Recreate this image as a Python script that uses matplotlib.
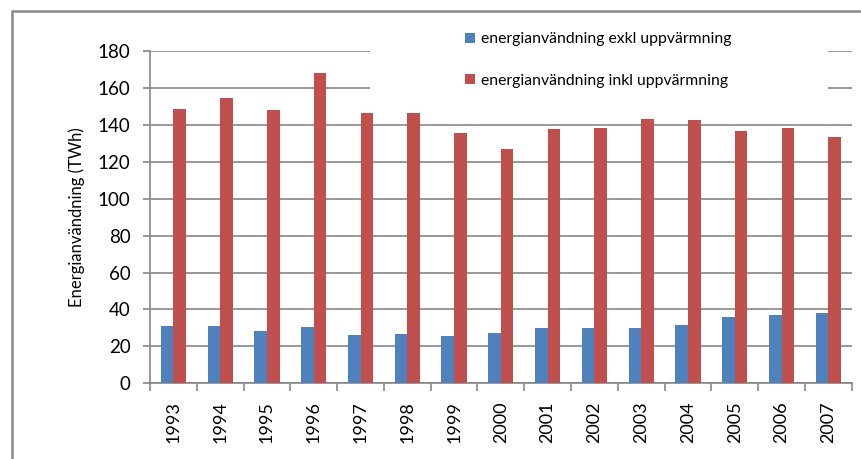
import numpy as np
import matplotlib.pyplot as plt
from matplotlib.patches import Rectangle

years = ['1993', '1994', '1995', '1996', '1997', '1998', '1999', '2000',
         '2001', '2002', '2003', '2004', '2005', '2006', '2007']
exkl = [30.9, 30.9, 28.3, 30.3, 26.2, 26.7, 25.6, 27.2, 29.8, 29.8, 29.8, 31.4, 35.7, 37.2, 38.2]
inkl = [148.6, 154.7, 148.0, 168.0, 146.3, 146.3, 135.4, 126.9, 137.6, 138.5, 143.2, 142.6, 136.5, 138.5, 133.4]
labels = ['energianvändning exkl uppvärmning', 'energianvändning inkl uppvärmning']

plt.rcParams['font.family'] = ['Lato', 'DejaVu Sans']
grey = '#868686'

fig = plt.figure(figsize=(8.62, 4.59), dpi=100)
W, H = 862, 459
ax = fig.add_axes([150 / W, 1 - 383.3 / H, 701.7 / W, 332.3 / H])

x = np.arange(len(years))
w = 0.27
ax.bar(x - w / 2, exkl, w, color='#4F81BD', label=labels[0], zorder=3)
ax.bar(x + w / 2, inkl, w, color='#C0504D', label=labels[1], zorder=3)

ax.set_xlim(-0.5, len(years) - 0.5)
ax.set_ylim(0, 180)
ax.set_yticks(range(0, 181, 20))
ax.yaxis.grid(True, color=grey, linewidth=1.2, zorder=0)
ax.set_axisbelow(True)

ax.set_xticks(x)
ax.set_xticklabels(years, rotation=90, fontsize=13)
ax.tick_params(axis='x', length=0, pad=13)
ax.set_xticks(np.arange(-0.5, len(years)), minor=True)
ax.tick_params(axis='x', which='minor', length=6, color=grey, width=1.2)
ax.tick_params(axis='y', labelsize=13.5, length=5, color=grey, width=1.2, pad=9)

for s in ['top', 'right']:
    ax.spines[s].set_visible(False)
for s in ['left', 'bottom']:
    ax.spines[s].set_color(grey)
    ax.spines[s].set_linewidth(1.2)

ax.set_ylabel('Energianvändning (TWh)', fontsize=12, labelpad=9)

# white area behind legend
fig.patches.append(Rectangle((370 / W, 1 - 100 / H), 458 / W, 88 / H,
                             transform=fig.transFigure, facecolor='white',
                             edgecolor='none', zorder=5))
# outer frame
fig.patches.append(Rectangle((12 / W, -0.1), 1.0, 1 - 11 / H + 0.1,
                             transform=fig.transFigure, facecolor='none',
                             edgecolor='#8a8a8a', linewidth=1.8, zorder=6))

fig.legend(loc='upper left', bbox_to_anchor=(459 / W, 1 - 26 / H), frameon=False,
           fontsize=11.3, handlelength=0.6, handleheight=0.6, handletextpad=0.4,
           labelspacing=1.75, borderaxespad=0)

fig.savefig('out.png', dpi=100)
